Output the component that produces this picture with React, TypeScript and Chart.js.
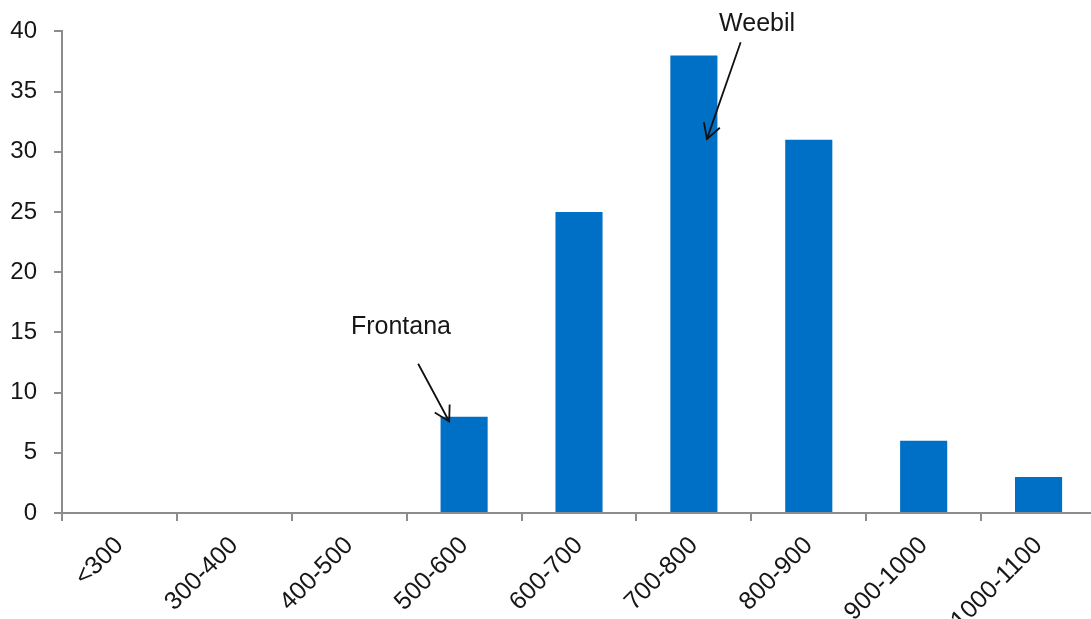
import React, { useEffect, useRef } from "react";
import { Chart, registerables } from "chart.js";

Chart.register(...registerables);

const categories = ["<300", "300-400", "400-500", "500-600", "600-700", "700-800", "800-900", "900-1000", "1000-1100"];
const counts = [0, 0, 0, 8, 25, 38, 31, 6, 3];
const yMin = 0;
const yMax = 40;
const yStep = 5;

// annotation texts and arrows, in data units (category index, count)
const annotationLabels = ["Frontana", "Weebil"];
const annotationTextAt = [[2.45, 15.45], [5.55, 40.6]];
const arrowFrom = [[2.6, 12.4], [5.407, 39.1]];
const arrowTo = [[2.87, 7.6], [5.114, 31.07]];

const FONT = "'Liberation Sans', Arial, sans-serif";
const TEXT = "#161616";
const AXIS = "#8c8c8c";

const CW = 1100;
const CH = 640;
const PLOT_LEFT = 62;
const PLOT_TOP = 29;
const PLOT_BOTTOM = 513;

const annotationPlugin = {
  id: "arrows",
  afterDatasetsDraw(chart: any) {
    const ctx = chart.ctx;
    const xs = chart.scales.x;
    const ys = chart.scales.y;
    ctx.save();
    ctx.fillStyle = TEXT;
    ctx.font = `25px ${FONT}`;
    ctx.textAlign = "center";
    ctx.textBaseline = "middle";
    annotationLabels.forEach((label, i) => {
      const tx = xs.getPixelForValue(annotationTextAt[i][0]);
      const ty = ys.getPixelForValue(annotationTextAt[i][1]);
      ctx.fillText(label, tx, ty);
      const x1 = xs.getPixelForValue(arrowFrom[i][0]);
      const y1 = ys.getPixelForValue(arrowFrom[i][1]);
      const x2 = xs.getPixelForValue(arrowTo[i][0]);
      const y2 = ys.getPixelForValue(arrowTo[i][1]);
      ctx.strokeStyle = "#111";
      ctx.lineWidth = 1.8;
      ctx.beginPath();
      ctx.moveTo(x1, y1);
      ctx.lineTo(x2, y2);
      const ang = Math.atan2(y2 - y1, x2 - x1);
      const hl = 17;
      const spread = 0.52;
      ctx.moveTo(x2 - hl * Math.cos(ang - spread), y2 - hl * Math.sin(ang - spread));
      ctx.lineTo(x2, y2);
      ctx.lineTo(x2 - hl * Math.cos(ang + spread), y2 - hl * Math.sin(ang + spread));
      ctx.stroke();
    });
    ctx.restore();
  },
};

export default function App() {
  const ref = useRef<HTMLCanvasElement>(null);

  useEffect(() => {
    document.body.style.overflow = "hidden";
    const chart = new Chart(ref.current as HTMLCanvasElement, {
      type: "bar",
      data: {
        labels: categories,
        datasets: [
          {
            data: counts,
            backgroundColor: "#0070c6",
            borderWidth: 0,
            barPercentage: 0.41,
            categoryPercentage: 1,
          },
        ],
      },
      plugins: [annotationPlugin],
      options: {
        responsive: false,
        animation: false,
        layout: { padding: { top: PLOT_TOP, left: 0, right: 4, bottom: 0 } },
        plugins: {
          legend: { display: false },
          tooltip: { enabled: false },
        },
        scales: {
          x: {
            afterFit: (s: any) => {
              s.height = CH - PLOT_BOTTOM;
            },
            border: { color: AXIS, width: 2 },
            grid: {
              offset: true,
              drawOnChartArea: false,
              drawTicks: true,
              tickLength: 8,
              color: AXIS,
              lineWidth: 2,
            },
            ticks: {
              minRotation: 45,
              maxRotation: 45,
              autoSkip: false,
              padding: 10,
              color: TEXT,
              font: { family: FONT, size: 25 },
            },
          },
          y: {
            min: yMin,
            max: yMax,
            afterFit: (s: any) => {
              s.width = PLOT_LEFT;
            },
            border: { color: AXIS, width: 2 },
            grid: {
              drawOnChartArea: false,
              drawTicks: true,
              tickLength: 8,
              color: AXIS,
              lineWidth: 2,
            },
            ticks: {
              stepSize: yStep,
              padding: 17,
              color: TEXT,
              font: { family: FONT, size: 24 },
            },
          },
        },
      },
    });
    return () => chart.destroy();
  }, []);

  return (
    <div style={{ position: "fixed", left: 0, top: 0, width: CW, height: CH, background: "#fff" }}>
      <canvas ref={ref} width={CW} height={CH} style={{ display: "block" }} />
    </div>
  );
}
